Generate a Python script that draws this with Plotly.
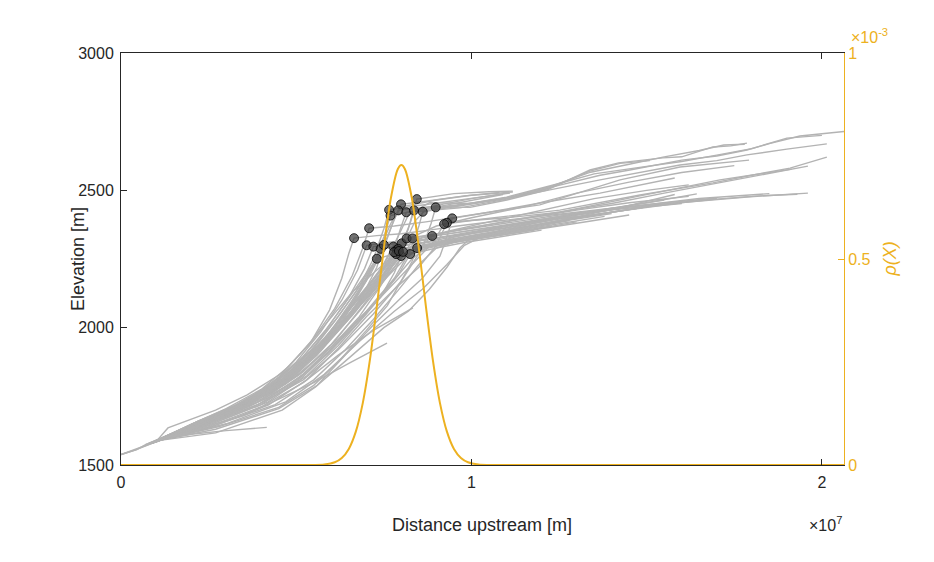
import plotly.graph_objects as go

# ---------------- data ----------------
# distance upstream in units of 1e7 m, elevation in m
r01 = [(0.0, 1538), (0.04, 1554), (0.087, 1578), (0.15, 1612), (0.3, 1680), (0.42, 1745), (0.52, 1830), (0.6, 1930), (0.68, 2040), (0.74, 2150), (0.79, 2260), (0.82, 2360), (0.835, 2430), (0.844, 2468), (0.95, 2488), (1.05, 2495), (1.118, 2497)]
r02 = [(0.08, 1578), (0.2, 1640), (0.32, 1700), (0.44, 1770), (0.53, 1870), (0.6, 1990), (0.66, 2100), (0.72, 2220), (0.76, 2330), (0.785, 2410), (0.799, 2449), (0.88, 2462), (0.98, 2480), (1.08, 2492)]
r03 = [(0.09, 1582), (0.22, 1660), (0.35, 1725), (0.46, 1810), (0.55, 1925), (0.62, 2040), (0.68, 2150), (0.72, 2250), (0.75, 2360), (0.765, 2429), (0.85, 2445), (0.95, 2462), (1.05, 2480), (1.11, 2490)]
r04 = [(0.10, 1586), (0.25, 1668), (0.38, 1738), (0.5, 1840), (0.58, 1960), (0.65, 2075), (0.71, 2190), (0.75, 2290), (0.775, 2380), (0.791, 2427), (0.88, 2440), (0.996, 2438), (1.101, 2465), (1.215, 2501), (1.338, 2574), (1.42, 2600), (1.546, 2618), (1.6, 2622), (1.689, 2658), (1.74, 2662), (1.786, 2672)]
r05 = [(0.07, 1574), (0.2, 1645), (0.34, 1718), (0.47, 1805), (0.57, 1915), (0.66, 2045), (0.73, 2170), (0.78, 2290), (0.80, 2370), (0.814, 2420), (0.967, 2436), (1.101, 2468), (1.215, 2505), (1.338, 2570), (1.424, 2598), (1.509, 2608)]
r06 = [(0.11, 1590), (0.26, 1665), (0.4, 1748), (0.51, 1850), (0.6, 1975), (0.68, 2090), (0.75, 2200), (0.8, 2300), (0.825, 2380), (0.836, 2427), (0.92, 2450), (1.0, 2470), (1.1, 2490)]
r07 = [(0.09, 1580), (0.22, 1650), (0.36, 1730), (0.49, 1815), (0.6, 1930), (0.7, 2060), (0.78, 2180), (0.83, 2290), (0.85, 2370), (0.861, 2422), (0.95, 2440), (1.1, 2470), (1.252, 2519), (1.367, 2555), (1.452, 2574), (1.6, 2610), (1.7, 2625), (1.786, 2647), (1.85, 2670), (1.937, 2698), (2.0, 2706), (2.063, 2714)]
r08 = [(0.1, 1585), (0.25, 1650), (0.4, 1725), (0.52, 1810), (0.62, 1920), (0.72, 2050), (0.8, 2170), (0.86, 2290), (0.885, 2380), (0.898, 2438), (0.98, 2450), (1.138, 2480), (1.367, 2538), (1.595, 2592), (1.7, 2608), (1.786, 2629), (1.9, 2650), (2.014, 2669)]
r09 = [(0.08, 1577), (0.21, 1652), (0.33, 1712), (0.45, 1790), (0.54, 1890), (0.61, 2000), (0.67, 2110), (0.72, 2230), (0.75, 2330), (0.769, 2408), (0.84, 2425), (0.92, 2445), (1.0, 2465), (1.09, 2485)]
r10 = [(0.0, 1538), (0.05, 1560), (0.09, 1580), (0.2, 1648), (0.3, 1705), (0.4, 1775), (0.48, 1860), (0.55, 1962), (0.61, 2070), (0.66, 2190), (0.69, 2290), (0.708, 2362), (0.78, 2370), (0.87, 2385), (0.95, 2400), (1.05, 2420), (1.2, 2455), (1.367, 2490), (1.58, 2545)]
r11 = [(0.10, 1585), (0.134, 1635), (0.27, 1700), (0.36, 1755), (0.46, 1835), (0.54, 1944), (0.595, 2064), (0.63, 2180), (0.65, 2270), (0.665, 2326), (0.73, 2335), (0.8, 2342), (0.88, 2355), (0.96, 2370), (1.1, 2392), (1.252, 2415), (1.4, 2435), (1.5, 2445), (1.65, 2462), (1.786, 2476), (1.96, 2490)]
r12 = [(0.1, 1588), (0.27, 1617), (0.46, 1700), (0.556, 1785), (0.64, 1900), (0.72, 2010), (0.8, 2110), (0.86, 2180), (0.91, 2260), (0.935, 2350), (0.945, 2398), (1.05, 2420), (1.195, 2447), (1.424, 2538), (1.595, 2585), (1.7, 2598), (1.792, 2610)]
r13 = [(0.11, 1590), (0.26, 1640), (0.42, 1718), (0.53, 1810), (0.62, 1925), (0.7, 2040), (0.78, 2140), (0.85, 2220), (0.9, 2300), (0.93, 2382), (0.996, 2390), (1.1, 2405), (1.252, 2428), (1.481, 2483), (1.689, 2527), (1.8, 2555), (1.909, 2581), (2.014, 2621)]
r14 = [(0.09, 1580), (0.24, 1645), (0.39, 1720), (0.5, 1805), (0.59, 1910), (0.68, 2030), (0.76, 2140), (0.83, 2230), (0.89, 2310), (0.922, 2377), (1.0, 2390), (1.1, 2400), (1.252, 2420), (1.481, 2480), (1.709, 2538), (1.914, 2577)]
r15 = [(0.1, 1586), (0.25, 1655), (0.38, 1730), (0.49, 1820), (0.58, 1935), (0.66, 2050), (0.74, 2160), (0.81, 2250), (0.86, 2300), (0.888, 2334), (0.95, 2345), (1.05, 2365), (1.2, 2395), (1.367, 2430), (1.5, 2455), (1.643, 2487)]
r16 = [(0.08, 1578), (0.2, 1645), (0.31, 1705), (0.42, 1785), (0.5, 1875), (0.57, 1985), (0.63, 2100), (0.675, 2210), (0.701, 2300), (0.76, 2310), (0.83, 2320), (0.9, 2335), (0.98, 2350), (1.1, 2370), (1.3, 2410), (1.45, 2440)]
r17 = [(0.09, 1580), (0.22, 1655), (0.34, 1720), (0.44, 1800), (0.52, 1895), (0.59, 2000), (0.65, 2110), (0.695, 2215), (0.72, 2295), (0.8, 2310), (0.9, 2325), (1.0, 2345), (1.15, 2380), (1.3, 2405)]
r18 = [(0.1, 1587), (0.24, 1658), (0.36, 1735), (0.46, 1815), (0.54, 1915), (0.61, 2025), (0.67, 2130), (0.715, 2220), (0.741, 2287), (0.82, 2300), (0.92, 2318), (1.02, 2340), (1.2, 2375), (1.4, 2420), (1.55, 2450), (1.7, 2470)]
r19 = [(0.11, 1592), (0.23, 1648), (0.35, 1715), (0.47, 1795), (0.56, 1900), (0.63, 2010), (0.69, 2120), (0.73, 2220), (0.75, 2301), (0.83, 2315), (0.93, 2330), (1.05, 2352), (1.25, 2395), (1.45, 2430), (1.6, 2455)]
r20 = [(0.0, 1538), (0.045, 1556), (0.07, 1574), (0.19, 1635), (0.3, 1695), (0.41, 1765), (0.5, 1850), (0.58, 1950), (0.65, 2060), (0.71, 2160), (0.755, 2240), (0.777, 2295), (0.86, 2310), (0.95, 2330), (1.08, 2360), (1.25, 2400), (1.45, 2440), (1.65, 2470), (1.85, 2488)]
r21 = [(0.1, 1585), (0.26, 1660), (0.38, 1740), (0.48, 1830), (0.57, 1940), (0.64, 2050), (0.71, 2150), (0.76, 2230), (0.787, 2283), (0.87, 2300), (0.97, 2318), (1.1, 2345), (1.23, 2370)]
r22 = [(0.09, 1582), (0.22, 1660), (0.33, 1720), (0.43, 1790), (0.52, 1880), (0.6, 1990), (0.67, 2100), (0.73, 2195), (0.78, 2260), (0.801, 2307), (0.87, 2320), (0.95, 2338), (1.1, 2372), (1.3, 2415), (1.5, 2448), (1.7, 2472)]
r23 = [(0.1, 1588), (0.27, 1665), (0.4, 1750), (0.5, 1840), (0.59, 1950), (0.67, 2060), (0.73, 2160), (0.78, 2250), (0.815, 2325), (0.88, 2338), (0.97, 2355), (1.1, 2380), (1.25, 2410), (1.35, 2425)]
r24 = [(0.08, 1578), (0.21, 1645), (0.35, 1722), (0.47, 1812), (0.57, 1925), (0.65, 2035), (0.72, 2135), (0.78, 2220), (0.815, 2280), (0.832, 2325), (0.9, 2342), (0.99, 2362), (1.12, 2390), (1.3, 2428), (1.45, 2455), (1.62, 2478)]
r25 = [(0.11, 1590), (0.28, 1640), (0.45, 1710), (0.55, 1790), (0.63, 1890), (0.7, 1990), (0.76, 2080), (0.8, 2170), (0.83, 2240), (0.845, 2290), (0.91, 2305), (1.0, 2322), (1.15, 2350), (1.3, 2380), (1.45, 2410)]
r26 = [(0.1, 1586), (0.25, 1645), (0.4, 1720), (0.51, 1810), (0.6, 1920), (0.67, 2020), (0.74, 2110), (0.79, 2190), (0.825, 2268), (0.9, 2290), (0.98, 2310), (1.1, 2335), (1.2, 2355)]
r27 = [(0.09, 1580), (0.23, 1650), (0.37, 1728), (0.48, 1815), (0.57, 1925), (0.64, 2030), (0.7, 2120), (0.76, 2200), (0.799, 2261), (0.86, 2285), (0.95, 2310), (1.05, 2330), (1.18, 2355)]
r28 = [(0.1, 1584), (0.24, 1655), (0.36, 1735), (0.45, 1820), (0.53, 1930), (0.6, 2040), (0.66, 2130), (0.73, 2210), (0.785, 2268), (0.85, 2290), (0.93, 2310), (1.03, 2332), (1.15, 2360), (1.28, 2390)]
r29 = [(0.08, 1577), (0.21, 1648), (0.33, 1718), (0.43, 1795), (0.51, 1880), (0.58, 1985), (0.64, 2090), (0.69, 2180), (0.730, 2251), (0.8, 2275), (0.88, 2295), (0.98, 2318), (1.1, 2342)]
r30 = [(0.09, 1581), (0.25, 1660), (0.39, 1745), (0.49, 1835), (0.58, 1945), (0.66, 2060), (0.72, 2160), (0.765, 2240), (0.791, 2287), (0.87, 2302), (0.96, 2322), (1.08, 2350), (1.22, 2380), (1.4, 2415)]
r31 = [(0.1, 1583), (0.23, 1652), (0.35, 1728), (0.46, 1812), (0.55, 1915), (0.62, 2020), (0.68, 2115), (0.74, 2205), (0.779, 2275), (0.85, 2295), (0.94, 2315), (1.06, 2340), (1.2, 2370), (1.38, 2405)]
r32 = [(0.09, 1581), (0.26, 1662), (0.41, 1755), (0.52, 1860), (0.61, 1975), (0.68, 2080), (0.74, 2170), (0.77, 2230), (0.793, 2279), (0.86, 2300), (0.96, 2325), (1.08, 2352), (1.25, 2390), (1.5, 2440)]
r33 = [(0.1, 1587), (0.24, 1645), (0.37, 1715), (0.49, 1800), (0.59, 1905), (0.67, 2010), (0.74, 2110), (0.78, 2200), (0.805, 2276), (0.88, 2298), (0.98, 2318), (1.12, 2345), (1.3, 2385)]
r34 = [(0.1, 1588), (0.2, 1612), (0.3, 1625), (0.416, 1637)]
r35 = [(0.1, 1586), (0.2, 1625), (0.35, 1680), (0.45, 1740), (0.55, 1800), (0.65, 1870), (0.759, 1944)]
r36 = [(0.09, 1582), (0.25, 1640), (0.4, 1712), (0.52, 1800), (0.62, 1900), (0.72, 1990), (0.833, 2072)]
r37 = [(0.1, 1588), (0.27, 1630), (0.45, 1705), (0.56, 1790), (0.66, 1900), (0.75, 2000), (0.82, 2060), (0.88, 2140), (0.93, 2220), (0.967, 2290), (1.0, 2330), (1.1, 2355), (1.3, 2400), (1.5, 2440), (1.6, 2452)]
r38 = [(0.11, 1590), (0.3, 1650), (0.47, 1730), (0.58, 1830), (0.68, 1950), (0.78, 2060), (0.86, 2140), (0.93, 2230), (0.98, 2300), (1.05, 2345), (1.2, 2385), (1.367, 2428), (1.55, 2465)]
r39 = [(0.1, 1586), (0.22, 1640), (0.36, 1715), (0.48, 1810), (0.57, 1920), (0.64, 2040), (0.7, 2170), (0.74, 2290), (0.77, 2380), (0.8, 2440), (0.9, 2465), (1.0, 2482), (1.118, 2494)]
r40 = [(0.09, 1580), (0.23, 1655), (0.37, 1735), (0.48, 1825), (0.57, 1935), (0.65, 2050), (0.72, 2160), (0.78, 2260), (0.83, 2330), (0.9, 2370), (1.0, 2400), (1.15, 2440), (1.3, 2490), (1.45, 2530), (1.6, 2565), (1.75, 2590)]
r41 = [(0.1, 1585), (0.25, 1660), (0.4, 1740), (0.52, 1840), (0.61, 1950), (0.69, 2080), (0.76, 2200), (0.81, 2310), (0.84, 2390), (0.87, 2430), (0.96, 2445), (1.1, 2475), (1.25, 2525), (1.35, 2560), (1.46, 2580), (1.6, 2605), (1.7, 2628), (1.8, 2652), (1.9, 2690), (2.0, 2700)]
r42 = [(0.09, 1581), (0.24, 1655), (0.38, 1735), (0.5, 1835), (0.59, 1955), (0.67, 2080), (0.74, 2210), (0.79, 2330), (0.82, 2410), (0.88, 2455), (1.0, 2452), (1.1, 2472), (1.22, 2512), (1.34, 2566), (1.45, 2595), (1.55, 2622), (1.65, 2645), (1.72, 2665), (1.78, 2668)]
r43 = [(0.1, 1587), (0.26, 1650), (0.42, 1730), (0.53, 1825), (0.62, 1935), (0.7, 2050), (0.77, 2160), (0.83, 2250), (0.88, 2300), (0.95, 2330), (1.1, 2372), (1.3, 2415), (1.5, 2442), (1.7, 2468), (1.82, 2480), (1.93, 2486)]
r44 = [(0.1, 1585), (0.25, 1655), (0.4, 1735), (0.51, 1830), (0.6, 1940), (0.68, 2060), (0.75, 2170), (0.81, 2270), (0.86, 2330), (1.0, 2365), (1.2, 2410), (1.4, 2452), (1.55, 2490), (1.7, 2525), (1.85, 2562), (1.96, 2588)]
r45 = [(0.09, 1582), (0.23, 1650), (0.37, 1725), (0.48, 1815), (0.57, 1925), (0.65, 2040), (0.72, 2150), (0.79, 2250), (0.84, 2310), (0.93, 2350), (1.05, 2385), (1.2, 2428), (1.35, 2470), (1.5, 2500), (1.62, 2520)]
r46 = [(0.1, 1588), (0.27, 1645), (0.44, 1720), (0.55, 1810), (0.64, 1920), (0.72, 2030), (0.79, 2135), (0.85, 2230), (0.9, 2290), (0.97, 2320), (1.1, 2350), (1.25, 2390), (1.4, 2430), (1.58, 2485)]

profiles = [r01, r02, r03, r04, r05, r06, r07, r08, r09, r10, r11, r12, r13, r14, r15, r16, r17, r18, r19, r20,
            r21, r22, r23, r24, r25, r26, r27, r28, r29, r30, r31, r32, r33, r34, r35, r36, r37, r38, r39, r40,
            r41, r42, r43, r44, r45, r46]

# knickpoints (distance in 1e7 m, elevation in m)
knick_x = [0.844, 0.799, 0.765, 0.791, 0.814, 0.836, 0.861, 0.898, 0.769, 0.708, 0.665, 0.945, 0.930, 0.922, 0.888,
           0.701, 0.720, 0.741, 0.750, 0.777, 0.787, 0.801, 0.815, 0.832, 0.845, 0.825, 0.799, 0.785, 0.730, 0.791,
           0.779, 0.793, 0.805]
knick_e = [2468, 2449, 2429, 2427, 2420, 2427, 2422, 2438, 2408, 2362, 2326, 2398, 2382, 2377, 2334,
           2300, 2295, 2287, 2301, 2295, 2283, 2307, 2325, 2325, 2290, 2268, 2261, 2268, 2251, 2287,
           2275, 2279, 2276]

# probability density rho(X) (x in 1e7 m, rho in 1e-3)
rho_x = [0.0, 0.50, 0.55, 0.58, 0.61, 0.63, 0.65, 0.67, 0.69, 0.71, 0.73, 0.75, 0.77, 0.79, 0.80,
         0.81, 0.83, 0.85, 0.87, 0.89, 0.91, 0.93, 0.95, 0.97, 0.99, 1.02, 1.05, 1.10, 2.063]
rho_v = [0.0, 0.0, 0.0002, 0.0013, 0.0066, 0.0170, 0.0390, 0.0809, 0.1509, 0.2538, 0.3850, 0.526, 0.6476, 0.7186, 0.728,
         0.7186, 0.6476, 0.526, 0.3850, 0.2538, 0.1509, 0.0809, 0.0390, 0.0170, 0.0066, 0.0013, 0.0002, 0.0, 0.0]

x_ticks = [0, 1, 2]
y_ticks = [1500, 2000, 2500, 3000]
y2_ticks = [0, 0.5, 1]
y2_ticklabels = ["0", "0.5", "1"]

# ---------------- figure ----------------
FONT = "Liberation Sans, Arial, Helvetica, sans-serif"
DARK = "#262626"
ORANGE = "#EDB120"
GREY = "#b3b3b3"

fig = go.Figure()
for prof in profiles:
    fig.add_trace(go.Scatter(
        x=[p[0] for p in prof], y=[p[1] for p in prof], mode="lines",
        line=dict(color=GREY, width=1.4), hoverinfo="skip", showlegend=False))

fig.add_trace(go.Scatter(
    x=knick_x, y=knick_e, mode="markers",
    marker=dict(size=9, color="rgba(60,60,60,0.72)", line=dict(color="rgba(0,0,0,0.75)", width=1)),
    showlegend=False))

fig.add_trace(go.Scatter(
    x=rho_x, y=rho_v, mode="lines", yaxis="y2",
    line=dict(color=ORANGE, width=2, shape="spline", smoothing=0.8), showlegend=False))

fig.update_layout(
    width=934, height=562,
    margin=dict(l=121, r=90, t=53, b=97),
    paper_bgcolor="white", plot_bgcolor="white",
    font=dict(family=FONT, size=16, color=DARK),
    xaxis=dict(range=[0, 2.063], tickvals=x_ticks, ticktext=[str(v) for v in x_ticks],
               ticks="inside", ticklen=6, tickcolor=DARK, showline=True, linecolor=DARK, linewidth=1,
               mirror="ticks", showgrid=False, zeroline=False, tickfont=dict(size=16, color=DARK),
               ticklabelstandoff=3),
    yaxis=dict(range=[1500, 3000], tickvals=y_ticks, ticks="inside", ticklen=6, tickcolor=DARK,
               showline=True, linecolor=DARK, linewidth=1, showgrid=False, zeroline=False,
               tickfont=dict(size=16, color=DARK), ticklabelstandoff=3),
    yaxis2=dict(range=[0, 1], overlaying="y", side="right", tickvals=y2_ticks, ticktext=y2_ticklabels,
                ticks="inside", ticklen=6, tickcolor=ORANGE, showline=True, linecolor=ORANGE, linewidth=1,
                showgrid=False, zeroline=False, tickfont=dict(size=16, color=ORANGE)),
    annotations=[
        dict(text="Distance upstream [m]", x=0.4995, y=-0.145, xref="paper", yref="paper",
             xanchor="center", yanchor="middle", showarrow=False, font=dict(size=18, color=DARK)),
        dict(text="Elevation [m]", x=-0.0595, y=0.5, xref="paper", yref="paper", textangle=-90,
             xanchor="center", yanchor="middle", showarrow=False, font=dict(size=18, color=DARK)),
        dict(text="<i>ρ(X)</i>", x=1.063, y=0.5, xref="paper", yref="paper", textangle=-90,
             xanchor="center", yanchor="middle", showarrow=False, font=dict(size=18, color=ORANGE)),
        dict(text="×10<sup>7</sup>", x=0.974, y=-0.143, xref="paper", yref="paper",
             xanchor="center", yanchor="middle", showarrow=False, font=dict(size=16, color=DARK)),
        dict(text="×10<sup>-3</sup>", x=1.035, y=1.042, xref="paper", yref="paper",
             xanchor="center", yanchor="middle", showarrow=False, font=dict(size=16, color=ORANGE)),
    ],
)

fig.write_html("out.html")
